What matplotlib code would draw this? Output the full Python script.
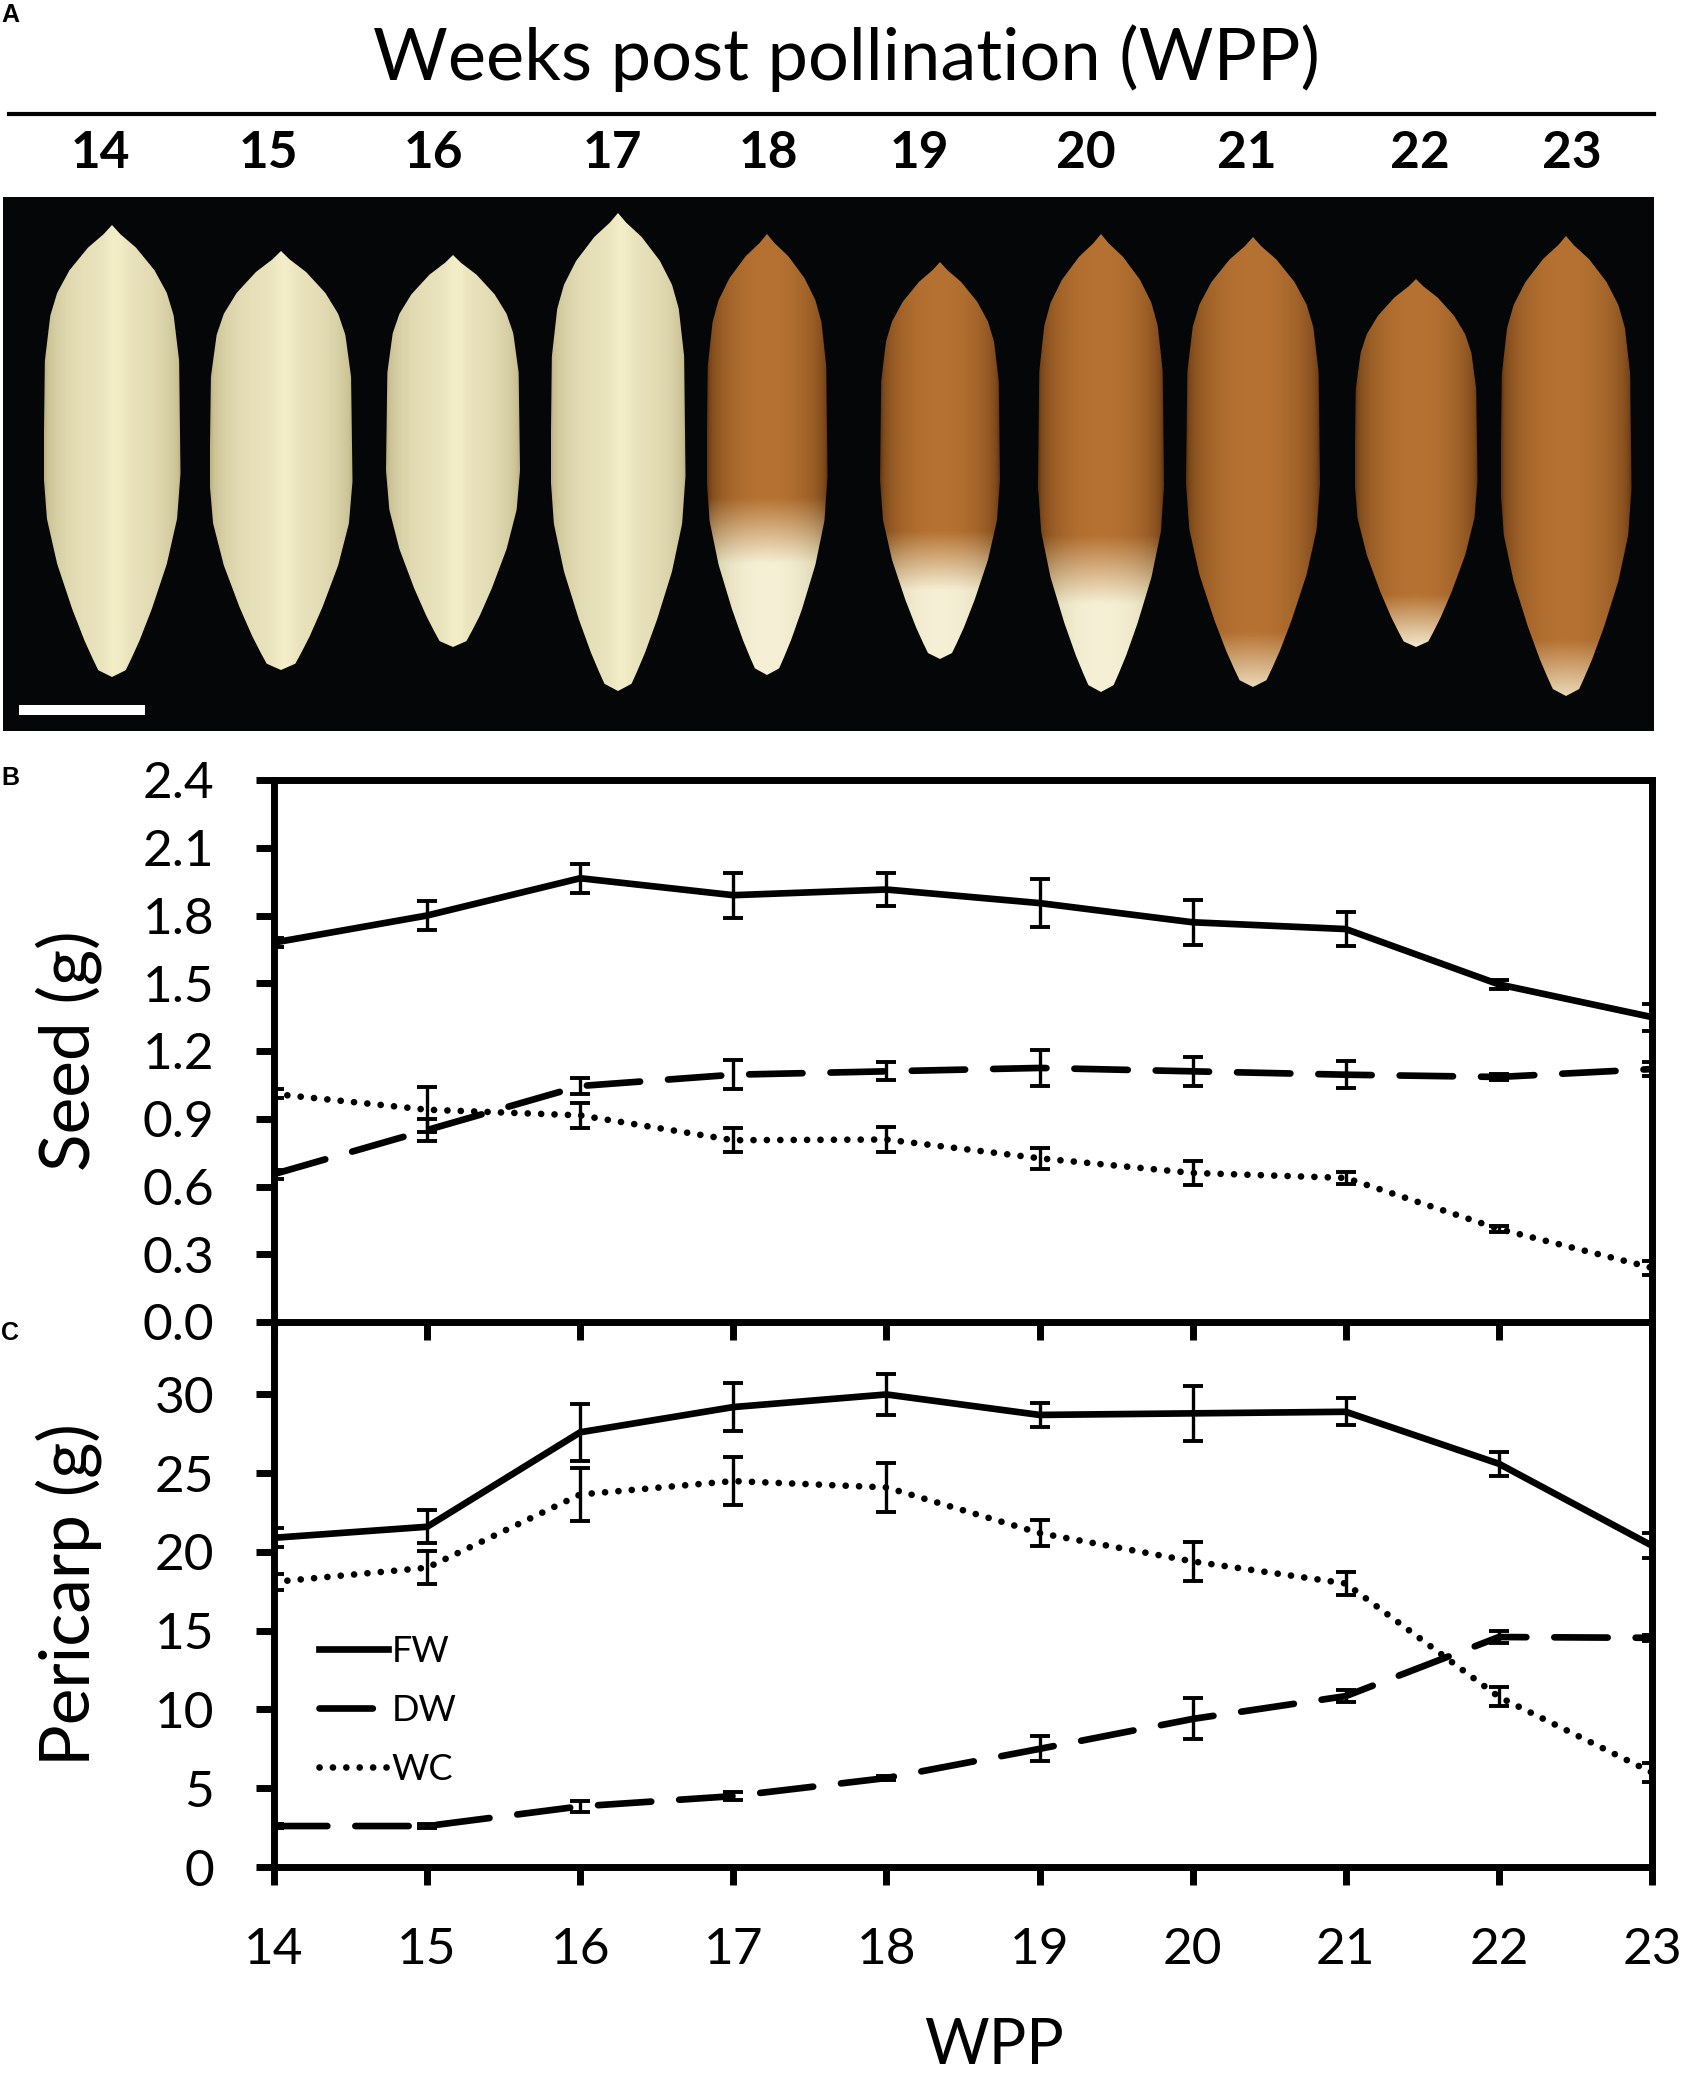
import matplotlib
matplotlib.use("Agg")
import matplotlib.pyplot as plt
from matplotlib.patches import Polygon, Rectangle
from matplotlib.lines import Line2D
import numpy as np

plt.rcParams['font.family'] = ['Lato', 'DejaVu Sans']

# data: weeks post pollination
weeks = [14, 15, 16, 17, 18, 19, 20, 21, 22, 23]

# seed weights (g)
seed_fw = [1.68, 1.80, 1.965, 1.89, 1.915, 1.855, 1.77, 1.74, 1.495, 1.35]
seed_fw_err = [0.02, 0.065, 0.065, 0.10, 0.075, 0.105, 0.10, 0.075, 0.02, 0.06]
seed_dw = [0.655, 0.85, 1.045, 1.095, 1.11, 1.125, 1.11, 1.095, 1.085, 1.12]
seed_dw_err = [0.02, 0.05, 0.035, 0.065, 0.04, 0.08, 0.065, 0.06, 0.015, 0.03]
seed_wc = [1.01, 0.94, 0.915, 0.805, 0.808, 0.725, 0.66, 0.638, 0.412, 0.24]
seed_wc_err = [0.02, 0.10, 0.055, 0.053, 0.054, 0.047, 0.052, 0.025, 0.015, 0.03]

# pericarp weights (g)
peri_fw = [20.9, 21.6, 27.6, 29.2, 30.0, 28.7, 28.8, 28.9, 25.6, 20.4]
peri_fw_err = [0.6, 1.05, 1.8, 1.5, 1.3, 0.75, 1.75, 0.85, 0.75, 0.8]
peri_dw = [2.6, 2.6, 3.85, 4.5, 5.65, 7.5, 9.4, 10.85, 14.6, 14.55]
peri_dw_err = [0.1, 0.1, 0.35, 0.27, 0.15, 0.8, 1.3, 0.4, 0.4, 0.2]
peri_wc = [18.1, 19.0, 23.65, 24.5, 24.1, 21.2, 19.4, 18.0, 10.8, 6.0]
peri_wc_err = [0.5, 1.05, 1.7, 1.5, 1.55, 0.8, 1.25, 0.7, 0.6, 0.6]

W, H = 1684, 2082
fig = plt.figure(figsize=(W / 100, H / 100), dpi=100)


def fx(px):
    return px / W


def fy(py):
    return 1 - py / H


# ---------------- panel A: header + seed "photo" ----------------
fig.text(fx(846), fy(58), "Weeks post pollination (WPP)", fontsize=52,
         ha="center", va="center")
fig.add_artist(Line2D([fx(9), fx(1654)], [fy(114), fy(114)], color="black", lw=3))
header_x = [100, 268, 433, 612, 768, 919, 1086, 1247, 1420, 1572]
for xp, wk in zip(header_x, weeks):
    fig.text(fx(xp), fy(153), str(wk), fontsize=37, fontweight="bold",
             ha="center", va="center")

axp = fig.add_axes([fx(3), fy(731), fx(1651), (731 - 197) / H])
axp.set_xlim(3, 1654)
axp.set_ylim(731, 197)
axp.set_facecolor("#050607")
axp.set_xticks([])
axp.set_yticks([])
for s in axp.spines.values():
    s.set_visible(False)

# seed outlines for the illustration: centre x, top, bottom, width, brown fraction
seed_cx = [112, 281, 453, 618, 767, 940, 1101, 1253, 1416, 1566]
seed_top = [225, 251, 255, 213, 234, 262, 234, 237, 279, 236]
seed_bot = [677, 670, 647, 691, 675, 659, 692, 687, 647, 696]
seed_w = [137, 143, 134, 135, 121, 120, 126, 134, 123, 131]
seed_brown = [0.0, 0.0, 0.0, 0.0, 0.6, 0.68, 0.66, 0.88, 0.86, 0.88]

vk = [0, 0.02, 0.05, 0.10, 0.15, 0.20, 0.30, 0.55, 0.65, 0.75, 0.85, 0.92, 0.96, 0.985, 1]
wk_ = [0, 0.12, 0.35, 0.62, 0.80, 0.90, 0.98, 1.0, 0.95, 0.80, 0.58, 0.40, 0.28, 0.20, 0]
cream = np.array([234, 228, 190]) / 255
cream_edge = np.array([190, 180, 132]) / 255
brown = np.array([182, 114, 50]) / 255
brown_edge = np.array([100, 55, 16]) / 255
white = np.array([246, 240, 214]) / 255

for cx, top, bot, sw, bf in zip(seed_cx, seed_top, seed_bot, seed_w, seed_brown):
    v = np.linspace(0, 1, 200)
    hw = np.interp(v, vk, wk_) * sw / 2
    ys = top + v * (bot - top)
    xs = np.concatenate([cx + hw, (cx - hw)[::-1]])
    yy = np.concatenate([ys, ys[::-1]])
    poly = Polygon(np.column_stack([xs, yy]), closed=True, facecolor="none",
                   edgecolor="none")
    axp.add_patch(poly)
    nx, ny = 60, 160
    u = np.linspace(-1, 1, nx)[None, :]
    vv = np.linspace(0, 1, ny)[:, None]
    shade = np.clip(1 - u ** 2, 0, 1) ** 0.5
    if bf == 0:
        base = cream_edge + (cream - cream_edge) * shade[..., None]
        img = np.broadcast_to(base, (ny, nx, 3)).copy()
        glint = np.exp(-((u - 0.05) / 0.15) ** 2) * 0.04
        img = np.clip(img + glint[..., None], 0, 1)
    else:
        mix = np.clip((vv - bf) / 0.15, 0, 1)[..., None]
        b = brown_edge + (brown - brown_edge) * shade[..., None]
        c = cream_edge + (white - cream_edge) * shade[..., None]
        img = np.clip(b * (1 - mix) + c * mix, 0, 1)
    im = axp.imshow(img, extent=[cx - sw / 2, cx + sw / 2, bot, top],
                    aspect="auto", interpolation="bilinear", zorder=2)
    im.set_clip_path(poly)

axp.add_patch(Rectangle((19, 705), 126, 10, facecolor="white", edgecolor="none",
                        zorder=3))

# ---------------- panels B and C ----------------
left, width = fx(274), (1652 - 274) / W
axc = fig.add_axes([left, fy(1867), width, (1867 - 1322) / H])
axb = fig.add_axes([left, fy(1322), width, (1322 - 780) / H])
axc.patch.set_visible(False)

lw = 4.8
dash = (8.0, 4.2)
dots = (0.01, 2.0)


def draw(ax, fw, fwe, dw, dwe, wc, wce):
    for vals, errs, style in ((fw, fwe, "-"), (dw, dwe, dash), (wc, wce, dots)):
        ax.errorbar(weeks, vals, yerr=errs, fmt="none", ecolor="black",
                    elinewidth=2.4, capsize=7, capthick=2.8, zorder=3)
        if style == "-":
            ax.plot(weeks, vals, color="black", lw=lw, solid_joinstyle="round",
                    zorder=4)
        else:
            ax.plot(weeks, vals, color="black", lw=lw, dashes=style,
                    dash_capstyle="round", zorder=4)


draw(axb, seed_fw, seed_fw_err, seed_dw, seed_dw_err, seed_wc, seed_wc_err)
draw(axc, peri_fw, peri_fw_err, peri_dw, peri_dw_err, peri_wc, peri_wc_err)

for ax in (axb, axc):
    ax.set_xlim(14, 23)
    ax.set_xticks(weeks)
    for s in ax.spines.values():
        s.set_linewidth(5)
    ax.tick_params(direction="out", length=13, width=5, labelsize=37, pad=30)

axb.set_ylim(0, 2.4)
axb.set_yticks(np.arange(0, 2.41, 0.3))
axb.set_yticklabels([f"{t:.1f}" for t in np.arange(0, 2.41, 0.3)])
axb.tick_params(axis="x", labelbottom=False)
axb.set_ylabel("Seed (g)", fontsize=50)
axb.yaxis.set_label_coords(-0.125, 0.5)

axc.set_ylim(0, 34.6)
axc.set_yticks(range(0, 31, 5))
axc.spines["top"].set_visible(False)
axc.set_ylabel("Pericarp (g)", fontsize=50)
axc.yaxis.set_label_coords(-0.125, 0.5)

# x-axis title placed by its baseline so it stays inside the figure
fig.text(fx(994), fy(2064), "WPP", fontsize=45, ha="center", va="baseline")

handles = [Line2D([], [], color="black", lw=lw),
           Line2D([], [], color="black", lw=lw, dashes=dash, dash_capstyle="round"),
           Line2D([], [], color="black", lw=lw, dashes=dots, dash_capstyle="round")]
axc.legend(handles, ["FW", "DW", "WC"], loc="center left",
           bbox_to_anchor=(0.033, 0.288), frameon=False, fontsize=26,
           handlelength=1.9, handletextpad=0.1, labelspacing=0.72,
           borderpad=0, borderaxespad=0)

# panel letters
for lab, yp in (("A", 15), ("B", 778), ("C", 1333)):
    fig.text(fx(1), fy(yp), lab, fontsize=18, fontweight="bold",
             family="Liberation Sans", ha="left", va="center")

fig.savefig("out.png", dpi=100)
